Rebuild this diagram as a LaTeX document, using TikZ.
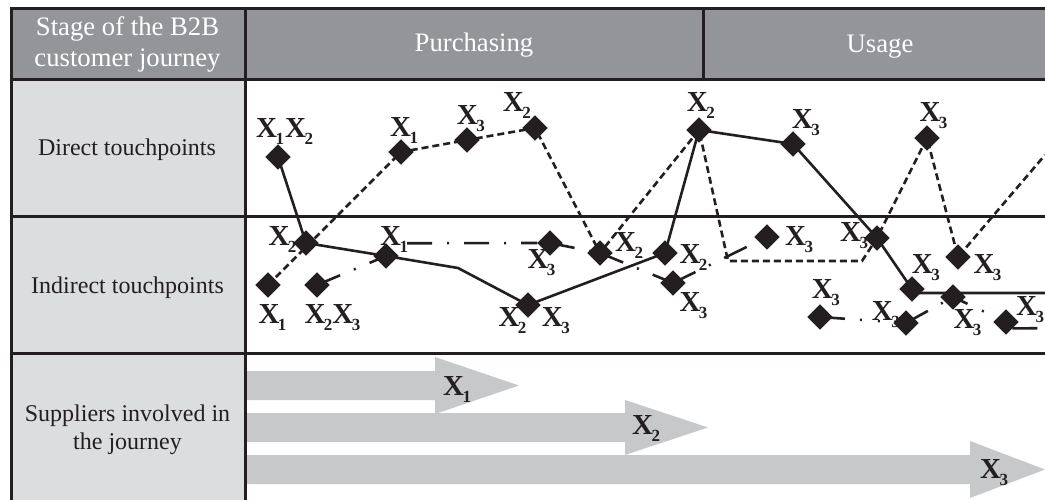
\documentclass[tikz,border=0pt]{standalone}
\usepackage{fontspec}
\setmainfont{Liberation Serif}
\usetikzlibrary{shapes.geometric}
\definecolor{hdr}{HTML}{939598}
\definecolor{lcol}{HTML}{DCDDDF}
\definecolor{arrfill}{HTML}{C7C8CA}
\definecolor{ink}{HTML}{231F20}
\newcommand\Xs[1]{\textbf{X}\kern-1.5pt\raisebox{-7pt}{\fontsize{17}{17}\selectfont\textbf{#1}}}
\begin{document}
\begin{tikzpicture}[x=1pt,y=-1pt,
  dia/.style={diamond,fill=ink,inner sep=0pt,minimum width=25pt,minimum height=25pt},
  xl/.style={anchor=base west,inner sep=0pt,text=ink,font=\fontsize{29}{29}\selectfont},
  hdrtxt/.style={anchor=base,inner sep=0pt,text=white,font=\fontsize{26.7}{31}\selectfont},
  rowtxt/.style={anchor=base,inner sep=0pt,text=ink,font=\fontsize{24}{27}\selectfont},
  gridln/.style={draw=ink,line width=3pt},
  solidln/.style={draw=ink,line width=2.6pt},
  dotln/.style={draw=ink,line width=2.6pt,dash pattern=on 7pt off 4pt},
  ddln/.style={draw=ink,line width=2.6pt,dash pattern=on 25pt off 15pt on 2pt off 15pt},
]
\useasboundingbox (0,0) rectangle (1045,500);
\fill[white] (0,0) rectangle (1045,500);
\fill[hdr] (11,8.5) rectangle (1045,80);
\fill[lcol] (11,80) rectangle (245,500);

% supplier arrows
\fill[arrfill] (245,371) -- (435,371) -- (435,357) -- (519,385.5) -- (435,414) -- (435,400) -- (245,400) -- cycle;
\fill[arrfill] (245,413) -- (625,413) -- (625,400) -- (708,427.5) -- (625,455) -- (625,442) -- (245,442) -- cycle;
\fill[arrfill] (245,455) -- (970,455) -- (970,441) -- (1045,469.5) -- (970,498) -- (970,484) -- (245,484) -- cycle;
\node[xl] (a1) at (443,395) {\Xs{1}};
\node[xl] (a2) at (632,434) {\Xs{2}};
\node[xl] (a3) at (980,478) {\Xs{3}};

% grid
\draw[gridln] (11,8.5) -- (1045,8.5);
\draw[gridln] (11,80) -- (1045,80);
\draw[gridln] (11,216.5) -- (1045,216.5);
\draw[gridln] (11,353.5) -- (1045,353.5);
\draw[gridln] (11,7) -- (11,500);
\draw[gridln] (245,7) -- (245,500);
\draw[gridln] (703.5,7) -- (703.5,80);

% header and row texts
\node[hdrtxt] (h1) at (127.5,36) {Stage of the B2B};
\node[hdrtxt] (h2) at (127.5,66.5) {customer journey};
\node[hdrtxt] (h3) at (474,51.7) {Purchasing};
\node[hdrtxt] (h4) at (880,52.5) {Usage};
\node[rowtxt] (r1) at (127,156) {Direct touchpoints};
\node[rowtxt] (r2) at (127.5,293.3) {Indirect touchpoints};
\node[rowtxt] (r3a) at (127.5,421.7) {Suppliers involved in};
\node[rowtxt] (r3b) at (127.5,449) {the journey};

% touchpoints
\node[dia] (d1) at (278,157) {};
\node[dia] (d2) at (401,152) {};
\node[dia] (d3) at (467,140) {};
\node[dia] (d4) at (535,128) {};
\node[dia] (d5) at (699,130) {};
\node[dia] (d6) at (793,144) {};
\node[dia] (d7) at (927,138) {};
\node[dia] (i1) at (306,243) {};
\node[dia] (i2) at (268,285) {};
\node[dia] (i3) at (317,285) {};
\node[dia] (i4) at (386,256) {};
\node[dia] (i5) at (528,305) {};
\node[dia] (i6) at (550,243) {};
\node[dia] (i7) at (600,253) {};
\node[dia] (i8) at (665,253) {};
\node[dia] (i9) at (673,283) {};
\node[dia] (i10) at (767,237) {};
\node[dia] (i11) at (877,238) {};
\node[dia] (i12) at (912,289) {};
\node[dia] (i13) at (958,257) {};
\node[dia] (i14) at (953,297) {};
\node[dia] (i15) at (820,317) {};
\node[dia] (i16) at (906,323) {};
\node[dia] (i17) at (1006,322) {};
\coordinate (bend) at (458,268);
\coordinate (c1) at (728,261);
\coordinate (c2) at (862,261);
\coordinate (eR1) at (1045,293);
\coordinate (eR2) at (1045,155);
\coordinate (eR3) at (1045,328.25);

% connectors (drawn, then diamonds redrawn on top)
\draw[solidln] (d1.center) -- (i1.center) -- (i4.center) -- (bend) -- (i5.center) -- (i8.center) -- (d5.center) -- (d6.center) -- (i11.center) -- (i12.center) -- (i12.center |- eR1) -- (eR1);
\draw[dotln] (i2.center) -- (d2.center) -- (d3.center) -- (d4.center) -- (i7.center) -- (d5.center) -- (c1) -- (c2) -- (i11.center) -- (d7.center) -- (i13.center) -- (eR2);
\draw[ddln] (i3.center) -- (i4.center);
\draw[ddln, shorten <=21pt] (i4.north) -- (i6.west);
\draw[ddln] (i6.center) -- (i7.center);
\draw[ddln] (i7.center) -- (i9.center);
\draw[ddln] (i9.center) -- (i10.center);
\draw[ddln, dash pattern=on 25pt off 15pt on 2pt off 16pt on 2pt off 40pt] (i15.center) -- (i16.center);
\draw[ddln] (i16.center) -- (i14.center);
\draw[ddln, dash pattern=on 16pt off 16pt on 2pt off 40pt] (i14.center) -- (i17.center);
\draw[ddln] (i17.south east) -- (eR3);

\foreach \n in {d1,d2,d3,d4,d5,d6,d7,i1,i2,i3,i4,i5,i6,i7,i8,i9,i10,i11,i12,i13,i14,i15,i16,i17}
  \fill[ink] (\n.north) -- (\n.east) -- (\n.south) -- (\n.west) -- cycle;

% labels
\node[xl] (ld1a) at (256,138) {\Xs{1}};
\node[xl] (ld1b) at (285,138) {\Xs{2}};
\node[xl] (ld2) at (390,136.7) {\Xs{1}};
\node[xl] (ld3) at (456.7,125) {\Xs{3}};
\node[xl] (ld4) at (502.7,111.7) {\Xs{2}};
\node[xl] (ld5) at (686.7,111.7) {\Xs{2}};
\node[xl] (ld6) at (791.7,128.3) {\Xs{3}};
\node[xl] (ld7) at (919.3,121.7) {\Xs{3}};
\node[xl] (li1) at (268.3,245) {\Xs{2}};
\node[xl] (li2) at (258.3,323.3) {\Xs{1}};
\node[xl] (li3) at (304.3,323.3) {\Xs{2}\Xs{3}};
\node[xl] (li4) at (380,245) {\Xs{1}};
\node[xl] (li5a) at (498.3,326.7) {\Xs{2}};
\node[xl] (li5b) at (541.7,326.7) {\Xs{3}};
\node[xl] (li6) at (527.3,268.3) {\Xs{3}};
\node[xl] (li7) at (615,251.7) {\Xs{2}};
\node[xl] (li8) at (679.3,263.3) {\Xs{2}};
\node[xl] (li9) at (679.3,311.7) {\Xs{3}};
\node[xl] (li10) at (785,245) {\Xs{3}};
\node[xl] (li11) at (840,241.7) {\Xs{3}};
\node[xl] (li12) at (911.7,273.3) {\Xs{3}};
\node[xl] (li13) at (973.3,273.3) {\Xs{3}};
\node[xl] (li14) at (953.3,328.3) {\Xs{3}};
\node[xl] (li15) at (811.7,298.3) {\Xs{3}};
\node[xl] (li16) at (871.7,320) {\Xs{3}};
\node[xl] (li17) at (1016,315) {\Xs{3}};
\end{tikzpicture}
\end{document}
